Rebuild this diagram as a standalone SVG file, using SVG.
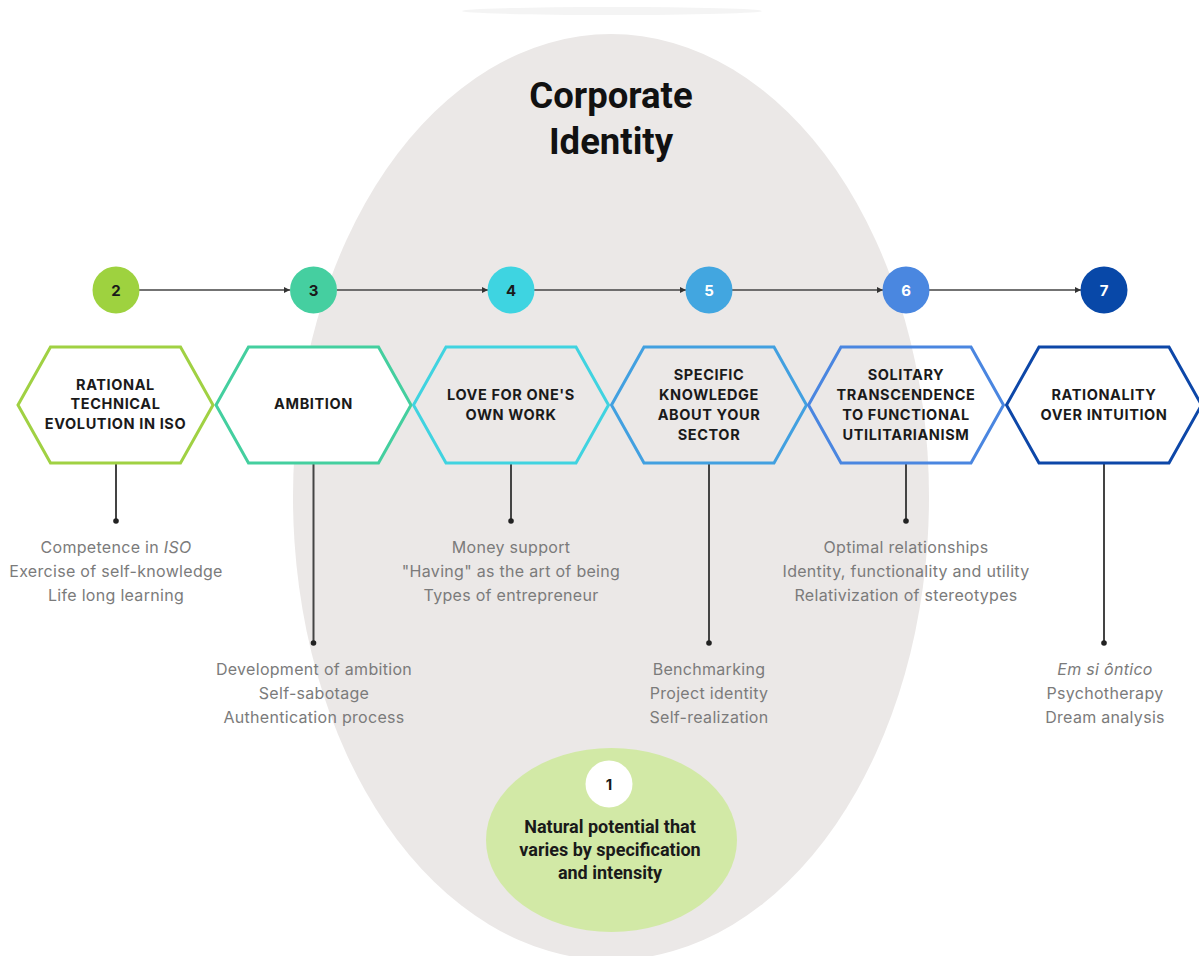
<svg xmlns="http://www.w3.org/2000/svg" width="1199" height="956" viewBox="0 0 1199 956">
<defs>
<style>
.hex{stroke-width:3;stroke-linejoin:miter}
.num{font-family:Inter,"Liberation Sans",sans-serif;font-weight:700;font-size:15px;text-anchor:middle}
.ht{font-family:Inter,"Liberation Sans",sans-serif;font-weight:700;font-size:14.5px;fill:#1a1a1a;text-anchor:middle;letter-spacing:0.6px}
.sub{font-family:Inter,"Liberation Sans",sans-serif;font-size:16px;fill:#7b7b7b;text-anchor:middle;letter-spacing:0.3px}
.title{font-family:Roboto,"Liberation Sans",sans-serif;font-weight:700;font-size:36.5px;fill:#111;text-anchor:middle}
.gt{font-family:Roboto,"Liberation Sans",sans-serif;font-weight:700;font-size:18px;fill:#1a1a1a;text-anchor:middle}
.conn{stroke:#444;stroke-width:1.5;fill:none}
.stem{stroke:#444;stroke-width:2;fill:none}
</style>
<marker id="ah" viewBox="0 0 10 10" refX="10" refY="5" markerWidth="6" markerHeight="6" markerUnits="userSpaceOnUse" orient="auto">
<path d="M0,0 L10,5 L0,10 z" fill="#333"/>
</marker>
</defs>
<rect width="1199" height="956" fill="#fff"/>
<ellipse cx="612" cy="11" rx="150" ry="4" fill="#f4f4f4"/>
<g id="background">
<ellipse cx="611" cy="497" rx="318" ry="463" fill="#ebe8e7"/>
<text class="title" x="611" y="108">Corporate</text>
<text class="title" x="611" y="154">Identity</text>
</g>
<g id="connectors">
<line class="conn" x1="139" y1="290" x2="290" y2="290" marker-end="url(#ah)"/>
<line class="conn" x1="337" y1="290" x2="488" y2="290" marker-end="url(#ah)"/>
<line class="conn" x1="534" y1="290" x2="686" y2="290" marker-end="url(#ah)"/>
<line class="conn" x1="732" y1="290" x2="883" y2="290" marker-end="url(#ah)"/>
<line class="conn" x1="929" y1="290" x2="1081" y2="290" marker-end="url(#ah)"/>
<line class="stem" x1="116" y1="464" x2="116" y2="521"/>
<circle cx="116" cy="521" r="2.8" fill="#222"/>
<line class="stem" x1="313.5" y1="464" x2="313.5" y2="643"/>
<circle cx="313.5" cy="643" r="2.8" fill="#222"/>
<line class="stem" x1="511" y1="464" x2="511" y2="521"/>
<circle cx="511" cy="521" r="2.8" fill="#222"/>
<line class="stem" x1="709" y1="464" x2="709" y2="643"/>
<circle cx="709" cy="643" r="2.8" fill="#222"/>
<line class="stem" x1="906" y1="464" x2="906" y2="521"/>
<circle cx="906" cy="521" r="2.8" fill="#222"/>
<line class="stem" x1="1104" y1="464" x2="1104" y2="643"/>
<circle cx="1104" cy="643" r="2.8" fill="#222"/>
</g>
<g id="node2">
<circle cx="116" cy="290" r="23.5" fill="#9ed23f"/>
<text class="num" x="116" y="295.5" fill="#1a1a1a">2</text>
<polygon class="hex" points="18,405 50.5,347 180.5,347 213,405 180.5,463 50.5,463" fill="#fff" stroke="#a0d143"/>
<text class="ht" x="115.5" y="390">RATIONAL</text>
<text class="ht" x="115.5" y="409">TECHNICAL</text>
<text class="ht" x="115.5" y="428.5">EVOLUTION IN ISO</text>
<text class="sub" x="116" y="553">Competence in <tspan font-style="italic">ISO</tspan></text>
<text class="sub" x="116" y="577">Exercise of self-knowledge</text>
<text class="sub" x="116" y="601">Life long learning</text>
</g>
<g id="node3">
<circle cx="313.5" cy="290" r="23.5" fill="#45cfa0"/>
<text class="num" x="313.5" y="295.5" fill="#1a1a1a">3</text>
<polygon class="hex" points="216,405 248.5,347 378.5,347 411,405 378.5,463 248.5,463" fill="#fff" stroke="#44cf9f"/>
<text class="ht" x="313.5" y="409">AMBITION</text>
<text class="sub" x="314" y="675">Development of ambition</text>
<text class="sub" x="314" y="699">Self-sabotage</text>
<text class="sub" x="314" y="723">Authentication process</text>
</g>
<g id="node4">
<circle cx="511" cy="290" r="23.5" fill="#3ed4e1"/>
<text class="num" x="511" y="295.5" fill="#1a1a1a">4</text>
<polygon class="hex" points="413.5,405 446,347 576,347 608.5,405 576,463 446,463" fill="none" stroke="#40d3e0"/>
<text class="ht" x="511" y="400">LOVE FOR ONE'S</text>
<text class="ht" x="511" y="419.5">OWN WORK</text>
<text class="sub" x="511" y="553">Money support</text>
<text class="sub" x="511" y="577">"Having" as the art of being</text>
<text class="sub" x="511" y="601">Types of entrepreneur</text>
</g>
<g id="node5">
<circle cx="709" cy="290" r="23.5" fill="#42a6e0"/>
<text class="num" x="709" y="295.5" fill="#fff">5</text>
<polygon class="hex" points="611.5,405 644,347 774,347 806.5,405 774,463 644,463" fill="none" stroke="#42a0e0"/>
<text class="ht" x="709" y="380">SPECIFIC</text>
<text class="ht" x="709" y="400">KNOWLEDGE</text>
<text class="ht" x="709" y="419.5">ABOUT YOUR</text>
<text class="ht" x="709" y="439.5">SECTOR</text>
<text class="sub" x="709" y="675">Benchmarking</text>
<text class="sub" x="709" y="699">Project identity</text>
<text class="sub" x="709" y="723">Self-realization</text>
</g>
<g id="node6">
<circle cx="906" cy="290" r="23.5" fill="#4a87e0"/>
<text class="num" x="906" y="295.5" fill="#fff">6</text>
<polygon class="hex" points="808.5,405 841,347 971,347 1003.5,405 971,463 841,463" fill="none" stroke="#4a86e0"/>
<text class="ht" x="906" y="380">SOLITARY</text>
<text class="ht" x="906" y="400">TRANSCENDENCE</text>
<text class="ht" x="906" y="419.5">TO FUNCTIONAL</text>
<text class="ht" x="906" y="439.5">UTILITARIANISM</text>
<text class="sub" x="906" y="553">Optimal relationships</text>
<text class="sub" x="906" y="577">Identity, functionality and utility</text>
<text class="sub" x="906" y="601">Relativization of stereotypes</text>
</g>
<g id="node7">
<circle cx="1104" cy="290" r="23.5" fill="#0848a8"/>
<text class="num" x="1104" y="295.5" fill="#fff">7</text>
<polygon class="hex" points="1006.5,405 1039,347 1169,347 1201.5,405 1169,463 1039,463" fill="#fff" stroke="#0d47a8"/>
<text class="ht" x="1104" y="400">RATIONALITY</text>
<text class="ht" x="1104" y="419.5">OVER INTUITION</text>
<text class="sub" x="1105" y="675" font-style="italic">Em si ôntico</text>
<text class="sub" x="1105" y="699">Psychotherapy</text>
<text class="sub" x="1105" y="723">Dream analysis</text>
</g>
<g id="node1">
<ellipse cx="611.5" cy="840" rx="125.5" ry="92" fill="#d2e9a6"/>
<circle cx="609" cy="784" r="23.5" fill="#fff"/>
<text class="num" x="609" y="789.5" fill="#1a1a1a">1</text>
<text class="gt" x="610" y="833">Natural potential that</text>
<text class="gt" x="610" y="856">varies by specification</text>
<text class="gt" x="610" y="879">and intensity</text>
</g>
</svg>
